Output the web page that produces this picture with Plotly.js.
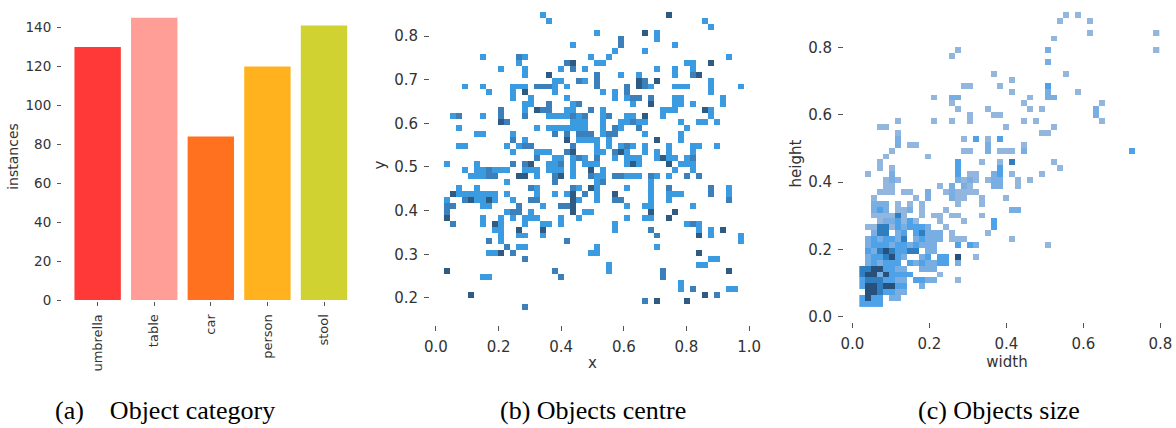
<!DOCTYPE html>
<html><head><meta charset="utf-8">
<script src="https://cdn.plot.ly/plotly-3.0.1.min.js"></script>
<style>html,body{margin:0;padding:0;background:#fff}#c{width:1176px;height:428px}</style>
</head><body><div id="c"></div>
<script>
var categories = ['umbrella','table','car','person','stool'];
var instances = [130,145,84,120,141];
var barColors = ['#ff3838','#ff9d97','#ff701f','#ffb21d','#cfd231'];
var yTicksA = [0,20,40,60,80,100,120,140];
var ticksX = [0,0.2,0.4,0.6,0.8,1.0];
var ticksYB = [0.2,0.3,0.4,0.5,0.6,0.7,0.8];
var ticksXC = [0,0.2,0.4,0.6,0.8];
var ticksYC = [0,0.2,0.4,0.6,0.8];

// Objects centre: occupied bins per row, top row first ("col" or "col:shade")
var centreRows = [
"16 37:3","17 43","44","25 33:3 35","29:2 35","21 29:2 38","28 33","6 12:2 13 24 27 47",
"12 20:2 21:3 25 26 40 41 44:3","9 13 19 21:2 23 35 38 41","13 17:3 25:2 29 32 38 41:2 42:3",
"18 19 22:2 23 25:2 32:3 33:2 35:3 44","3 6 11 12 13 15:2 16:2 17:2 18 20 25:2 30:2 32:3 33:2 34 38 39 40 44 49",
"7 11 13:3 18 26 28 30:2 44","11 14 20 28 30 31:2 32:2 34:2 38 39 46","13 14 17:2 21 22:2 31 34:3 38 39 41 46",
"9:2 13 15:3 16:2 17:2 20 21 24:2 26 36 37 38 43:3 44","1 2:2 6 9:2 13:2 17 18 19 20 21:2 22 23:2 26 27:2 30 31 33:3 36 44",
"9:3 10:2 21 22 23 26 29 30 31:2 32 33 39 42 43 45","2 15 17 18 19 20 21 22 23 26 28:2 29 32:2 40",
"5 6 11 18:2 20:2 22:2 23:2 24:2 26 27:2 28:2 33 39","11:2 13 20:3 22 23 24 25 27 35:3 39","2 3 10 12 13:2 14:2 21:2 25 27 29 30:2 31 33 37 41 42 45",
"11 15 16 17 20:2 21:3 25 26 28:2 29:3 30 33 35 37 41","15:2 18 19 21 22:2 23 25:2 28 30 31 32 35 36:3 37 38 40 41:2",
"0 5 11:2 13:2 14:3 17 18 19:2 21 23 24 25 30 31:3 32 37:3 39 40 41","3 5 6 7:2 8 9 10 13 14 15 17 18 19 21 24:3 26 38 41",
"4 5 6 7:2 8:2 12:3 13:3 15 18:2 19:3 21 24:2 25 26 28:2 29:2 30 31 32 34:2 35 37 40:2 42:2","10 18:2 25 26:2 34",
"2 5 14:2 15 21:2 22 24:3 25 30 34 37:2 44:2 47","1:3 2 3 4 5 6 7 8 10 15 18 20 21:3 23:2 25 28:3 34 37 38 39 44:2 47",
"0 3:2 4:3 5 6 7:3 8 11 14:2 15:2 21:3 22 25 28:2 29:2 34 37 47:2","0:2 1:2 6 7 12:2 16 19:2 20:2 21:3 30 33 34 41",
"0:2 10 11:2 12:2 14 21:3 23 24 34:3 38:3","0:3 6 9 11 13 14 15 19 22 30 33 34 37:3","1:2 6 8:3 9 13 16 17 19 28 40 41:2 42",
"8 9 12:3 16:3 28 34:2 42 44 46:3","9 12 13 16 35:2 42:3 44 49","7:2 9 20:2 49","10:2 12 13 25 35",
"7 8 9:3 11:2 24 25 42:3","13:2 44 45","27 42 43","0:3 18:2 27 36:2 47:3","6 7 19:2 36:2","39","39 41:2 47 48","4:3 43:3 45:2","33:2 35:3 40:3","13:2"
];

// Objects size: occupied bins per row, top row first ("col" or "col:shade")
var sizeRows = [
"34 36","33 38","","38 49","32","","16 31:2 49","15","31:2","","22 34","25",
"17 18 23 31:3","25 31:2 36","12 15:2 16:2 28 31:2 32:2","15 27 40","16 21 28 30 39:2","18 22 23 39:2",
"6 12 15 18 27 29 40","3 4 24 32","6 30 31","6:2 17 19:3 21 23:3","6:2 8 9 21:2 27","5 17 18 21:2 23 24 25 27:2 45:3",
"4 11","3 16:3 20 23 25:4 32","3 5 16:3 23:3 33","1 5:2 16:3 18 19 22:2 23:3 25 30","4 5:2 6 16:2 17 18:2 19 21 22:2 23:2 26 28",
"4 5 13 15:2 17:2 18 22:2 23:2 26","3 4 5 7 8 11:2 14 15:2 16 17 18 19","2 9 11:2 15:2 16 17 20 24","2:2 3:2 4:2 6 8 10 16 20",
"2:2 3:3 4:2 6 7 8:2 10 14 25:2 26:2","2 3 4 5 6:4 7 10 12 13 15 16 20","3 4:2 5:2 6:3 7 8:3 9 13 17 22:3",
"1 2 3:4 4:4 5 6:3 7:2 8:3 9:3 10:3 11:2 14 22:3","2:2 3:4 4:4 6:2 7:3 9:3 10:4 11:2 12:2 13:2 15 21",
"1:2 2:3 3:2 4:3 5:3 6:2 7:4 9:2 10:3 11:2 12:2 13:2 15 16 17 25","1:2 2:3 3:3 4:3 5:2 6:3 7:3 8:2 9:3 10:2 11:2 12:2 16:3 18:3 19:2 31",
"1:3 2:2 3:4 4:5 5:4 6:3 7:3 8:4 9:4 11:2 12:2","1:2 2:3 3:3 4:4 5:5 6:3 7:2 10:2 11:3 13:3 14:3 16:5 19",
"1:2 2:3 3:2 4:3 5:3 6:3 8:3 9:2 10:3 11:2 12:2 13:3 14:3 16:2","0:4 1:4 2:5 3:5 4:3 5:3 6:2 7:2 10:2 11:2 12:2",
"0:4 1:5 2:5 3:2 4:5 5:3 6:3 7:3 8:3 13","0:3 1:4 2:4 3:4 4:3 5:3 6:2 7:2 9:3 10:3 11:2 12:2 16",
"0:3 1:5 2:5 3:4 4:5 5:5 6:3 7:3 10:2","1:5 2:5 3:4 4:3 5:3 6:2 7:2","0:3 1:5 2:3 3:3 5:2 6:2","0:3 1:3 2:3 3:3"
];

var centreShades = ['#3a9be0','#3b80ba','#2f5b82'];
var sizeShades = ['#93b6de','#78aee2','#4fa2e7','#2f7ebf','#27507a'];

function toMatrix(rows){
  return rows.map(function(r){
    var line = []; for (var i=0;i<50;i++) line.push(null);
    r.split(' ').forEach(function(tok){
      if(!tok) return;
      var p = tok.split(':');
      line[+p[0]] = p[1] ? +p[1] : 1;
    });
    return line;
  });
}
function scale(shades){
  var n = shades.length, s = [];
  shades.forEach(function(c,i){ s.push([i/n,c]); s.push([(i+1)/n,c]); });
  return s;
}
function centres(start, step, n){ var a=[]; for(var i=0;i<n;i++) a.push(start+(i+0.5)*step); return a; }

var W=1176, H=428;
function dx(a,b){ return [a/W,b/W]; }
function dy(top,bottom){ return [1-bottom/H,1-top/H]; }
var fam = 'DejaVu Sans, sans-serif', ink = '#333';
function font(s){ return {family:fam, size:s, color:ink}; }
function axis(extra){
  var a = {showgrid:false, zeroline:false, showline:false, ticks:'outside', ticklen:5, tickwidth:1,
           tickcolor:'#555', tickfont:font(15), ticklabelstandoff:3, automargin:false, fixedrange:true};
  for (var k in extra) a[k]=extra[k];
  return a;
}

var traces = [
 {type:'bar', x:categories, y:instances, width:0.82, marker:{color:barColors, line:{width:0}}, xaxis:'x', yaxis:'y', hoverinfo:'x+y'},
 {type:'heatmap', z:toMatrix(centreRows), x:centres(0.0256,0.01917,50), y:centres(0.855,-0.01367,50),
  zmin:0.5, zmax:3.5, colorscale:scale(centreShades), showscale:false, xaxis:'x2', yaxis:'y2', hoverongaps:false},
 {type:'heatmap', z:toMatrix(sizeRows), x:centres(0.0182,0.01558,50), y:centres(0.9055,-0.01753,50),
  zmin:0.5, zmax:5.5, colorscale:scale(sizeShades), showscale:false, xaxis:'x3', yaxis:'y3', hoverongaps:false}
];

var capFont = {family:'Liberation Serif, serif', size:26, color:'#000'};
function caption(text,x){
  return {text:text, xref:'paper', yref:'paper', x:x/W, y:1-410/H, xanchor:'left', yanchor:'middle', showarrow:false, font:capFont, borderpad:0, xshift:-1};
}

var layout = {
  width:W, height:H, paper_bgcolor:'#fff', plot_bgcolor:'#fff', showlegend:false,
  margin:{l:0,r:0,t:0,b:0},
  xaxis: axis({domain:dx(62,354), type:'category', categoryorder:'array', categoryarray:categories, range:[-0.63,4.53], tickangle:-90, anchor:'y', ticklen:4, tickfont:font(13), ticklabelstandoff:3}),
  yaxis: axis({domain:dy(12,301), range:[-0.5,148], tickmode:'array', tickvals:yTicksA, anchor:'x', ticklen:4, tickfont:font(13.5), title:{text:'instances', font:font(14), standoff:3}}),
  xaxis2: axis({domain:dx(430,755), range:[-0.019,1.019], tickmode:'array', tickvals:ticksX, ticktext:['0.0','0.2','0.4','0.6','0.8','1.0'], anchor:'y2', title:{text:'x', font:font(15), standoff:2}}),
  yaxis2: axis({domain:dy(5,325), range:[0.138,0.871], tickmode:'array', tickvals:ticksYB, ticktext:ticksYB.map(function(v){return v.toFixed(1)}), anchor:'x2', title:{text:'y', font:font(15), standoff:4}}),
  xaxis3: axis({domain:dx(844,1170), range:[-0.0216,0.825], tickmode:'array', tickvals:ticksXC, ticktext:ticksXC.map(function(v){return v.toFixed(1)}), anchor:'y3', title:{text:'width', font:font(15), standoff:2}}),
  yaxis3: axis({domain:dy(5,322), range:[-0.0157,0.926], tickmode:'array', tickvals:ticksYC, ticktext:ticksYC.map(function(v){return v.toFixed(1)}), anchor:'x3', title:{text:'height', font:font(15), standoff:2}}),
  annotations:[caption('(a)&#160;&#160;&#160; Object category',55), caption('(b) Objects centre',500), caption('(c) Objects size',918)]
};
Plotly.newPlot('c', traces, layout, {displayModeBar:false, staticPlot:true});
</script></body></html>
